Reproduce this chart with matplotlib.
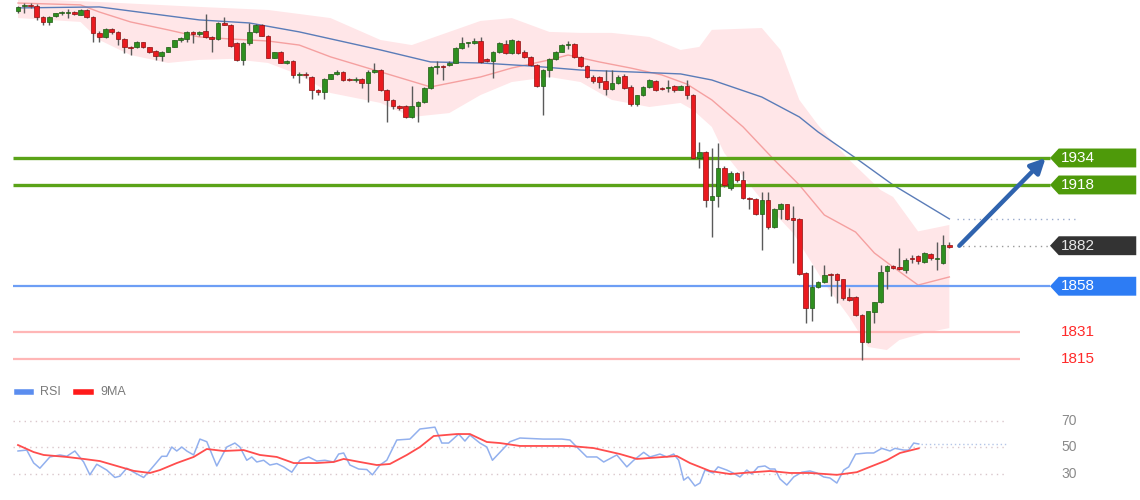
import matplotlib
matplotlib.use('Agg')
import matplotlib.pyplot as plt
from matplotlib.patches import Polygon
from matplotlib.lines import Line2D
import numpy as np

# ---- candles ----
opens = [2021, 2024, 2024.5, 2024, 2017.5, 2014.5, 2018, 2020, 2020, 2020.5,
         2019, 2021.5, 2017.5, 2008, 2005.5, 2010.5, 2008.5, 2004.5, 1999.5, 1999.5,
         2002.7, 1999.5, 1997.5, 1994.5, 1996.8, 1999.8, 2003.9, 2004.5, 2008.7, 2007.3,
         2009, 2005.7, 2004.5, 2014, 2013, 2002, 1992, 2002, 2008.5, 2012.8,
         2006.3, 1993.3, 1996.8, 1990.3, 1991.5, 1983.2, 1984, 1982, 1974.3, 1973.1,
         1981, 1983.8, 1985, 1981, 1980.2, 1981, 1978.4, 1985, 1986.1, 1974.3,
         1968.4, 1964.8, 1964.8, 1958.3, 1964.8, 1967.2, 1975.5, 1988, 1988.3, 1989,
         1990.3, 1999.2, 2002, 2002.3, 2003.1, 1992.5, 1991.5, 1996.6, 2001.6, 1996.2,
         2003.3, 1997, 1993.9, 1989.1, 1976.7, 1986.1, 1992.5, 1997, 2001, 2001.6,
         1993.9, 1988.5, 1982, 1982, 1979.6, 1975, 1978.4, 1982.6, 1976.1, 1966,
         1971.3, 1976.1, 1979.6, 1975.5, 1975.5, 1976.7, 1974.5, 1976.7, 1971.3, 1934,
         1937.5, 1909, 1911.5, 1928, 1916, 1925, 1921, 1910.5, 1909.5, 1901,
         1909, 1893, 1904, 1906.5, 1898.5, 1898, 1866, 1845, 1857.5, 1860.5,
         1865.5, 1865.5, 1862, 1851.5, 1851.5, 1841, 1825, 1843, 1848.5, 1867,
         1870, 1869.5, 1867.5, 1875, 1876, 1872.5, 1877, 1874, 1872, 1882.5]
highs = [2024, 2026, 2026, 2025, 2018, 2018, 2020, 2021, 2022, 2021,
         2022, 2022, 2018, 2009, 2011, 2011, 2009, 2005, 2000.5, 2003.5,
         2003, 2000, 1998, 1997.5, 2000, 2004, 2005.5, 2009, 2009, 2009,
         2019.5, 2006, 2014.5, 2017.5, 2013.5, 2002.5, 2002.5, 2014, 2013.5, 2013.5,
         2007, 1997, 1997.5, 1992, 1992, 1985, 1985, 1982.5, 1975, 1981.5,
         1984, 1986, 1985.5, 1981.5, 1982, 1981.5, 1986, 1990, 1987, 1975,
         1969, 1965.5, 1965.5, 1976.7, 1968, 1976, 1988.5, 1991.5, 1989, 1991.5,
         1999.5, 2005.5, 2003, 2004.8, 2005.5, 1993.5, 1997.5, 2002.5, 2004, 2004.5,
         2004, 1998, 1994.5, 1989.5, 1986.5, 1993, 1997.5, 2001.5, 2003.5, 2002,
         1994.5, 1989, 1983, 1982.5, 1986, 1986, 1983, 1983.5, 1977, 1971.5,
         1976.5, 1980.5, 1980, 1976, 1980, 1977.5, 1977.5, 1980, 1972, 1943.5,
         1938, 1940, 1943, 1929, 1926, 1925.5, 1926, 1911, 1910, 1914,
         1914, 1904.5, 1907.5, 1907, 1905.5, 1898.5, 1866.5, 1870.5, 1861, 1870.5,
         1866, 1866, 1862.5, 1857, 1852, 1841.5, 1843, 1848.5, 1870.5, 1870.5,
         1870.5, 1880.5, 1874.5, 1876.5, 1876.5, 1878, 1877.5, 1884, 1888.5, 1884]
lows = [2020, 2020, 2023, 2016, 2012.5, 2013, 2017.5, 2019, 2017, 2019,
        2018.5, 2017, 2003, 2003, 2005, 2007.5, 2001, 1996, 1995, 1999,
        1999, 1996, 1992, 1991.5, 1996.5, 1999.5, 2003, 2002.5, 2002, 2006.5,
        2005, 1997, 2004, 2012.5, 1999.5, 1991.5, 1989, 2001, 2008, 2006,
        1993, 1993, 1990, 1989.5, 1981.5, 1978.5, 1981.5, 1969, 1971.5, 1969,
        1980.5, 1983, 1979.5, 1979.5, 1979, 1975.5, 1967, 1984.5, 1973.5, 1955.3,
        1963, 1962.5, 1957.5, 1957.5, 1955.3, 1966.5, 1975, 1983.5, 1980.2, 1988.5,
        1990, 1998.8, 2000, 2001.5, 1990.5, 1991, 1981.4, 1996, 1995.5, 1995.5,
        1995.5, 1993, 1988.5, 1976, 1959.5, 1982, 1992, 1996.5, 1998.5, 1993.5,
        1988, 1981.5, 1978.5, 1975.5, 1971.5, 1974, 1978, 1975, 1964.5, 1964.5,
        1970.5, 1975.5, 1973.5, 1974, 1973, 1973, 1974, 1969, 1933.5, 1928,
        1905, 1887, 1905, 1917, 1915, 1920, 1909.5, 1904, 1900.5, 1879.5,
        1892, 1892.5, 1898, 1897.5, 1872, 1864.5, 1836, 1837.5, 1857, 1860,
        1852.5, 1848, 1850, 1849.5, 1840.5, 1814.5, 1824.5, 1836.5, 1848, 1856.5,
        1868, 1867.5, 1866, 1872, 1871, 1872, 1873.5, 1867.5, 1871, 1880.5]
closes = [2023.5, 2024.5, 2024, 2017.5, 2014.5, 2017.5, 2020, 2020.5, 2020.3, 2019.3,
          2021.5, 2017.5, 2008, 2005.5, 2010.5, 2008.5, 2004.5, 1999.5, 1999, 2002.7,
          1999.5, 1996.8, 1994.5, 1996.8, 1999.8, 2003.9, 2005, 2008.7, 2007.3, 2008.5,
          2005.7, 2004.5, 2014, 2013, 2000.5, 1992, 2002, 2008.5, 2012.8, 2006.3,
          1993.3, 1996.8, 1990.3, 1991.5, 1983.2, 1984, 1983, 1974.3, 1973.1, 1981,
          1983.8, 1985, 1980.2, 1980.2, 1980.8, 1978.4, 1985, 1986.1, 1974.3, 1968.4,
          1964.8, 1963.6, 1958.3, 1964.8, 1967.2, 1975.5, 1987.9, 1988.3, 1988, 1990.3,
          1999.2, 2002.1, 2002.5, 2003.1, 1990.9, 1991.5, 1996.6, 2002.1, 1996.2, 2003.9,
          1996.2, 1993.9, 1989.1, 1976.7, 1986.1, 1992.5, 1997, 2000.9, 2001.6, 1993.9,
          1988.5, 1982, 1979.6, 1979, 1975, 1978.4, 1982, 1975.5, 1966, 1971.3,
          1976.1, 1980.2, 1974.3, 1975, 1976, 1974.5, 1976.7, 1971.3, 1934, 1937.5,
          1909, 1911.5, 1928, 1918, 1925, 1921, 1910, 1909.5, 1901, 1909,
          1893, 1904, 1907, 1898, 1897.5, 1865, 1845, 1857.5, 1860.5, 1864.5,
          1864.5, 1861.5, 1851, 1850, 1841, 1825, 1843.5, 1848.5, 1866.5, 1870,
          1869, 1868.5, 1873.5, 1874, 1873, 1877.5, 1875, 1874.5, 1882.5, 1881.5]

# ---- overlays (sampled from the chart, x = candle index) ----
ma_slow_x = [0, 13, 29, 37, 45, 58, 66, 74, 82, 90, 98, 106, 111, 119, 125, 128, 134, 140, 149]
ma_slow_y = [2022.9, 2023.5, 2015.8, 2014, 2008.7, 1998, 1990.9, 1990.3, 1988.5, 1986.1,
             1985, 1983.8, 1980.2, 1970.1, 1958.3, 1949.4, 1934, 1918, 1897.9]
ma_fast_x = [0, 10, 13, 18, 24, 29, 34, 40, 45, 50, 58, 66, 74, 79, 85, 88, 93, 98, 103,
             107, 111, 116, 121, 125, 129, 134, 137, 140, 144, 149]
ma_fast_y = [2025.8, 2024.7, 2020.5, 2014.6, 2009.9, 2005.7, 2004.5, 2003.3, 2000.9, 1993.9,
             1985, 1976.1, 1982, 1987.3, 1992.1, 1995, 1990.9, 1987.3, 1983.2, 1977.8,
             1968.4, 1952.4, 1932.8, 1918, 1900.2, 1890.1, 1877.7, 1869.4, 1858.7, 1863.5]
band_up_x = [0, 13, 29, 40, 50, 58, 63, 69, 74, 79, 82, 85, 90, 95, 101, 106, 109, 111,
             119, 122, 125, 128, 133, 138, 140, 144, 149]
band_up_y = [2028.5, 2026.4, 2023.5, 2021.7, 2016.9, 2003.9, 2000.9, 2008.7, 2015.2, 2016.9,
             2012.8, 2008.7, 2008.1, 2008.1, 2005.7, 1998, 1999.8, 2009.9, 2011, 1998,
             1968.4, 1953.5, 1932.8, 1915, 1910.9, 1890.5, 1894.3]
band_lo_x = [0, 10, 13, 18, 24, 29, 34, 40, 45, 50, 58, 63, 69, 74, 79, 85, 90, 95, 101,
             106, 108, 111, 113, 119, 124, 129, 133, 136, 139, 141, 145, 149]
band_lo_y = [2016.9, 2014.6, 2003.9, 1995, 1990.3, 1992.1, 1992.7, 1990.3, 1983.2, 1972.5,
             1966.6, 1958.3, 1960.6, 1971.3, 1979, 1982, 1979, 1968.4, 1964.2, 1966.6,
             1962.4, 1952.4, 1936.9, 1909.1, 1889.5, 1859.9, 1839.7, 1822, 1820.2, 1826.1,
             1830.3, 1833.2]

# ---- levels ----
resistance = [1934, 1918]
pivot = 1858
supports = [1831, 1815]
last_price = 1882

# ---- RSI panel ----
rsi_x = [0.0, 1.4, 2.5, 3.5, 5.1, 6.7, 7.8, 9.1, 10.5, 11.5, 12.6, 14.2, 15.5, 16.3, 17.4,
         18.5, 20.1, 21.7, 23.0, 23.8, 24.6, 25.4, 26.2, 27.0, 28.1, 29.1, 30.2, 31.8, 33.4,
         34.7, 35.5, 36.6, 37.4, 38.2, 39.3, 40.3, 41.4, 42.5, 43.8, 45.1, 46.5, 47.8, 49.1,
         50.5, 51.3, 52.1, 53.1, 54.5, 55.8, 56.7, 57.9, 59.0, 60.6, 62.7, 64.3, 66.7, 67.8,
         68.9, 70.5, 71.5, 72.3, 73.9, 75.0, 75.9, 77.1, 78.7, 80.3, 84.0, 87.0, 88.3, 89.4,
         91.0, 92.6, 93.7, 95.8, 97.4, 98.5, 100.1, 101.1, 102.7, 103.8, 104.9, 105.7, 106.5,
         107.2, 108.3, 109.1, 109.9, 111.2, 112.0, 113.4, 114.4, 115.5, 116.6, 117.4, 118.4,
         119.5, 120.3, 121.1, 121.9, 123.0, 124.1, 125.4, 126.7, 127.8, 128.9, 129.9, 131.0,
         132.1, 132.9, 134.0, 135.8, 136.9, 138.2, 139.5, 140.3, 141.7, 142.5, 143.3, 144.1]
rsi_y = [47, 47.7, 38, 34, 42.5, 44, 43, 47, 38.7, 29, 37, 32.6, 27, 28, 34,
         31, 27, 35.7, 43, 43, 50, 47, 50, 47, 44, 56, 54, 35.7, 50,
         53, 50, 40, 42.5, 38.7, 40, 36.4, 37.5, 35, 31, 40, 42.5, 39.4, 40,
         38.7, 44.7, 45.5, 36.4, 33.4, 33, 29, 36.4, 40, 55.3, 56, 63.6, 65, 53,
         53, 59.8, 54.5, 59, 53, 50, 40, 46, 54, 56.8, 56, 56, 55.3, 50,
         42.5, 42.5, 38.7, 44, 35, 40, 46, 42.5, 44.7, 42.5, 44.7, 40, 25,
         27.4, 20.6, 22.8, 32.6, 30.4, 35, 32.6, 30.4, 27.4, 32.6, 29.6, 35,
         35.7, 33.4, 33.4, 25.9, 21.3, 27.4, 31, 31.9, 30.4, 27.4, 26.6, 22.8,
         32.6, 35, 44.7, 45.5, 45.5, 49, 47, 49, 47.7, 47.7, 53, 52.3]
rsi_ma_x = [0.0, 2.5, 4.1, 7.8, 10.5, 13.1, 15.8, 18.5, 21.1, 22.7, 25.4, 28.1, 30.2, 32.9,
            36.1, 38.7, 41.4, 44.1, 47.8, 50.5, 52.1, 54.7, 57.4, 59.5, 62.2, 64.3, 66.5,
            70.2, 72.3, 75.0, 77.1, 80.3, 84.0, 88.3, 92.1, 96.3, 99.0, 103.3, 105.4, 107.5,
            110.7, 113.9, 116.0, 120.3, 123.5, 126.7, 131.0, 134.2, 136.3, 139.0, 141.1, 144.1]
rsi_ma_y = [51.5, 46.2, 44, 42.5, 41, 39.4, 35.7, 32, 30.4, 32.6, 37.9, 42.5, 48.5, 47,
            47.7, 44, 42.5, 37.9, 37.9, 38.7, 41, 38.7, 36.4, 37.2, 44, 50, 58.3,
            59.8, 59.8, 53.8, 53, 50.8, 50.8, 50.8, 49.2, 44.7, 41, 42.5, 43.2, 37.9,
            31.9, 29.6, 30.4, 31.9, 30.4, 30.4, 29, 31, 35, 40, 45.5, 49]
rsi_levels = [70, 50, 30]
rsi_last = 52

GREEN = '#2f8f1f'
RED = '#ea1a1f'
XLIM = (-2.88, 179.5)

fig = plt.figure(figsize=(11.4, 5), dpi=100)
fig.patch.set_facecolor('white')
plt.rcParams['font.family'] = ['Liberation Sans', 'DejaVu Sans']

# main price panel
ax = fig.add_axes([0, 0.25, 1, 0.75])
ax.set_xlim(*XLIM)
ax.set_ylim(1805.4, 2027.6)
ax.axis('off')

# bollinger band
ax.fill(np.r_[band_up_x, band_lo_x[::-1]], np.r_[band_up_y, band_lo_y[::-1]],
        color='#ffe6e8', lw=0, zorder=1)
ax.plot(ma_fast_x, ma_fast_y, color='#f5a0a0', lw=1.0, zorder=2)
ax.plot(ma_slow_x, ma_slow_y, color='#5a7cb8', lw=1.0, zorder=2)

# levels
ax.hlines(resistance, -0.8, 165.1, color='#5aa318', lw=2.4, zorder=3)
ax.hlines(pivot, -0.8, 165.1, color='#6d9ef5', lw=1.6, zorder=3)
ax.hlines(supports, -0.8, 160.3, color='#ffb6b6', lw=1.6, zorder=3)
ax.hlines(last_price, 150.3, 165.1, color='#999999', lw=1, linestyles=(0, (1, 3)), zorder=3)
ax.hlines(ma_slow_y[-1], 150.3, 169.1, color='#9aaacc', lw=1, linestyles=(0, (1, 3)), zorder=3)

# candles
idx = np.arange(len(closes))
o = np.array(opens)
c = np.array(closes)
up = c >= o
ax.vlines(idx, lows, highs, color='#5a5a5a', lw=1.0, zorder=4)
bottom = np.minimum(o, c)
height = np.maximum(np.abs(c - o), 0.7)
ax.bar(idx[up], height[up], bottom=bottom[up], width=0.74, color=GREEN,
       edgecolor='#1f5a14', lw=0.5, zorder=5)
ax.bar(idx[~up], height[~up], bottom=bottom[~up], width=0.74, color=RED,
       edgecolor='#8a1010', lw=0.5, zorder=5)

# target arrow
ax.annotate('', xy=(164.4, resistance[0]), xytext=(150.6, last_price),
            arrowprops=dict(arrowstyle='-|>', lw=3.2, color='#2f63ae',
                            mutation_scale=22, shrinkA=0, shrinkB=0), zorder=6)


def tag(y, text, face, txt_color='white'):
    h = 5.6
    pts = [(165.1, y), (166.5, y + h), (178.9, y + h), (178.9, y - h), (166.5, y - h)]
    ax.add_patch(Polygon(pts, closed=True, facecolor=face, edgecolor='none', zorder=6))
    ax.text(166.9, y, text, color=txt_color, fontsize=11, va='center', ha='left', zorder=7)


for lvl in resistance:
    tag(lvl, str(lvl), '#4e9a0a')
tag(last_price, str(last_price), '#333333', '#e8e8e8')
tag(pivot, str(pivot), '#2d7cf4')
for lvl in supports:
    ax.text(166.9, lvl, str(lvl), color='#ff2a2a', fontsize=11, va='center', ha='left')

# RSI panel
ax2 = fig.add_axes([0, 0, 1, 0.24])
ax2.set_xlim(*XLIM)
ax2.set_ylim(10, 100.6)
ax2.axis('off')
ax2.hlines(rsi_levels, -0.8, 158.2, color='#d9c6cb', lw=1, linestyles=(0, (1, 3)))
ax2.hlines(rsi_last, 144.5, 158.2, color='#b5c6e8', lw=1, linestyles=(0, (1, 2)))
ax2.plot(rsi_x, rsi_y, color='#92b0ee', lw=1.1)
ax2.plot(rsi_ma_x, rsi_ma_y, color='#ff4d4d', lw=1.3)
for lvl in rsi_levels:
    ax2.text(166.9, lvl, str(lvl), color='#8a8a8a', fontsize=10, va='center', ha='left')

# legend
fig.add_artist(Line2D([17 / 1140, 31 / 1140], [108 / 500, 108 / 500], color='#5b8def', lw=4))
fig.text(40 / 1140, 108 / 500, 'RSI', color='#7a7a7a', fontsize=9, va='center')
fig.add_artist(Line2D([76 / 1140, 91 / 1140], [108 / 500, 108 / 500], color='#ff1a1a', lw=4))
fig.text(100 / 1140, 108 / 500, '9MA', color='#7a7a7a', fontsize=9, va='center')

plt.savefig('out.png', dpi=100, facecolor='white')
